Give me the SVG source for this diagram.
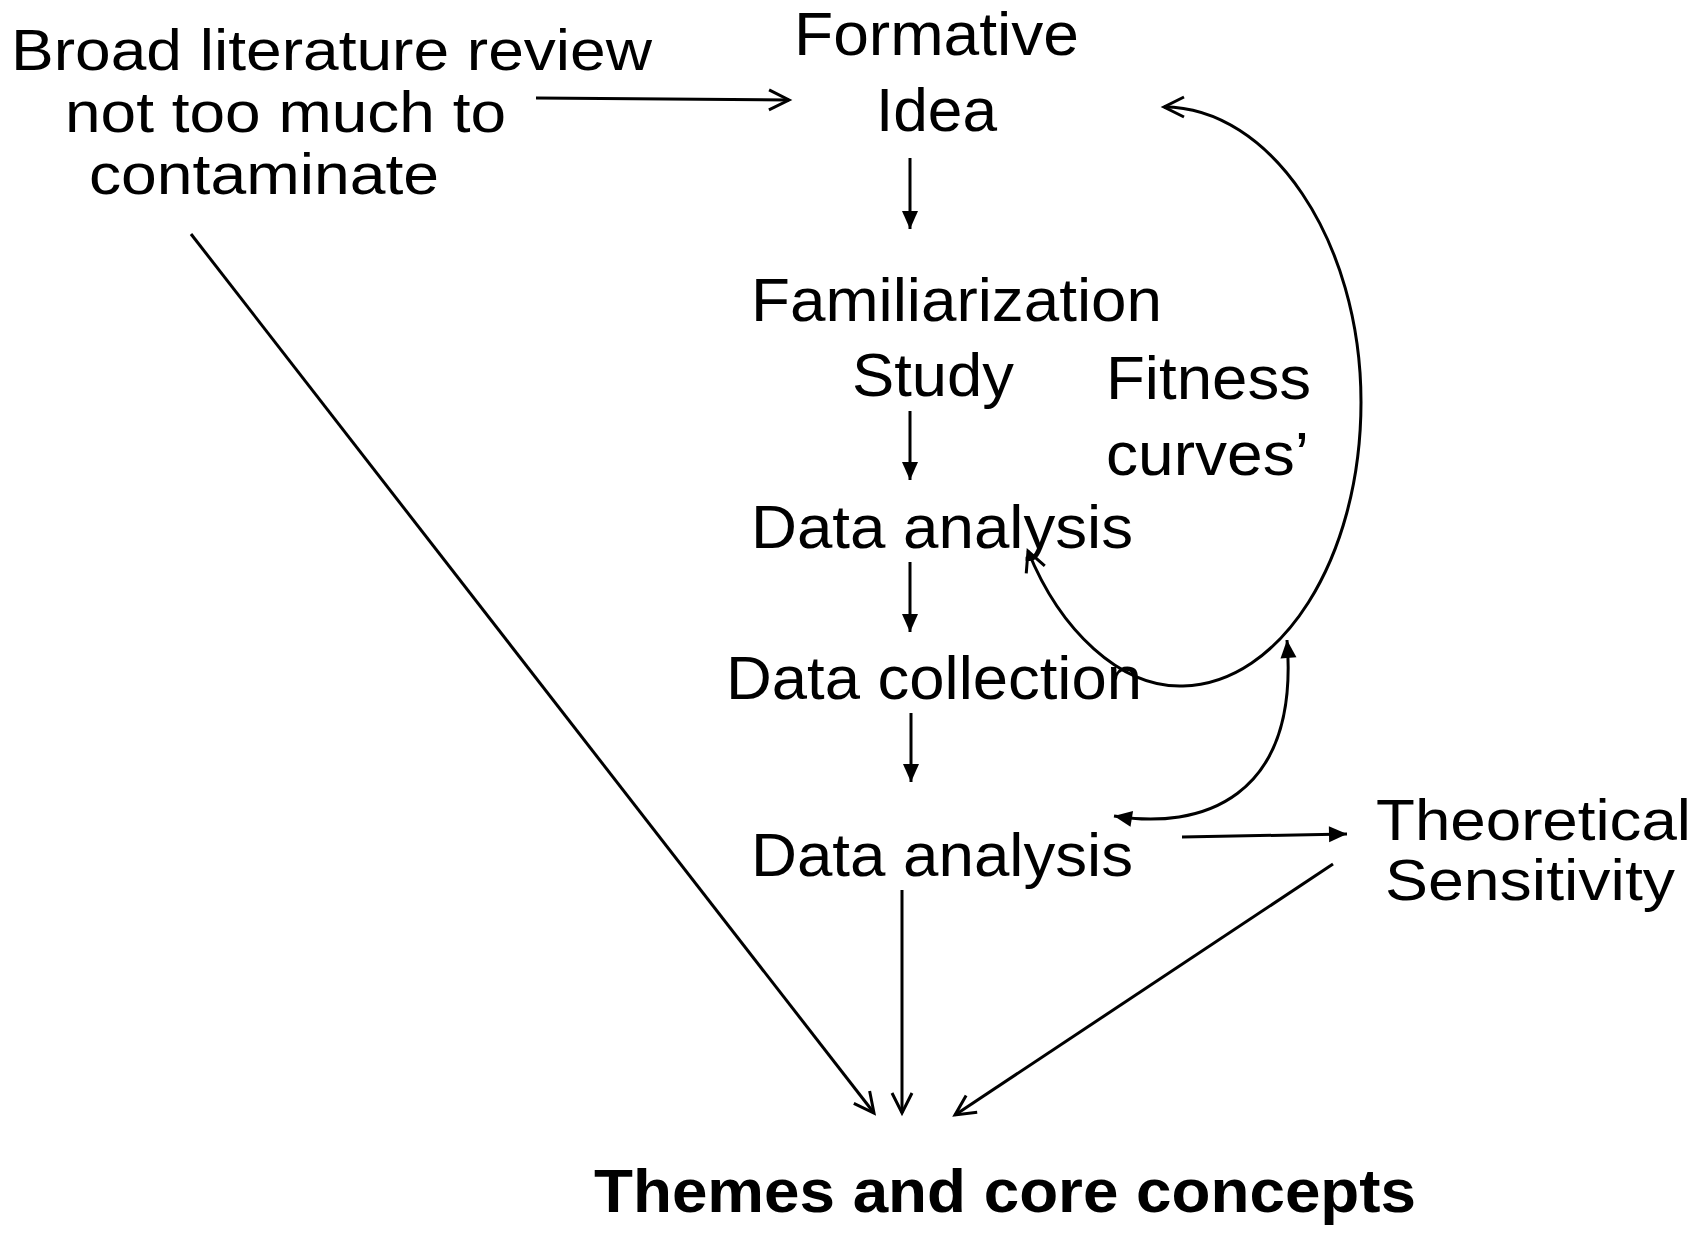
<svg xmlns="http://www.w3.org/2000/svg" width="1700" height="1233" viewBox="0 0 1700 1233">
<style>
  .t { font-family: "Liberation Sans", Arial, sans-serif; font-size: 62px; fill: #000; }
  .s { font-size: 58px; }
  .b { font-family: "Liberation Sans", Arial, sans-serif; font-size: 62px; font-weight: bold; fill: #000; }
  .c { fill: none; stroke: #000; stroke-width: 3; }
  .o { marker-end: url(#open); }
  .f { marker-end: url(#fill); }
</style>
<defs>
  <marker id="open" markerUnits="userSpaceOnUse" markerWidth="30" markerHeight="30" refX="0" refY="0" orient="auto-start-reverse" style="overflow:visible">
    <path d="M-20,-10 L0,0 L-20,10" fill="none" stroke="#000" stroke-width="3"/>
  </marker>
  <marker id="fill" markerUnits="userSpaceOnUse" markerWidth="30" markerHeight="30" refX="0" refY="0" orient="auto-start-reverse" style="overflow:visible">
    <path d="M-18,-8 L0,0 L-18,8 Z" fill="#000"/>
  </marker>
</defs>
<rect width="1700" height="1233" fill="#fff"/>

<g id="connectors">
  <line class="c o" x1="536" y1="98" x2="789" y2="100"/>
  <line class="c f" x1="910" y1="158" x2="910" y2="229"/>
  <line class="c f" x1="910" y1="411" x2="910" y2="480"/>
  <line class="c f" x1="910" y1="562" x2="910" y2="632"/>
  <line class="c f" x1="911" y1="713" x2="911" y2="782"/>
  <line class="c o" x1="902" y1="890" x2="902" y2="1113"/>
  <line class="c o" x1="191" y1="234" x2="874" y2="1113"/>
  <line class="c o" x1="1333" y1="864" x2="955" y2="1115"/>
  <line class="c f" x1="1182" y1="837" x2="1347" y2="834"/>
  <path class="c" marker-start="url(#open)" marker-end="url(#open)" d="M1028,551 C1060,630 1120,688 1183,686 C1280,684 1361,560 1361,402 C1361,240 1270,107 1164,107"/>
  <path class="c" marker-start="url(#fill)" marker-end="url(#fill)" d="M1114,816 C1200,830 1300,800 1287,640"/>
</g>

<g id="node-literature">
  <text class="t s" x="11" y="70" textLength="641" lengthAdjust="spacingAndGlyphs">Broad literature review</text>
  <text class="t s" x="65" y="132" textLength="441" lengthAdjust="spacingAndGlyphs">not too much to</text>
  <text class="t s" x="89" y="194" textLength="350" lengthAdjust="spacingAndGlyphs">contaminate</text>
</g>
<g id="node-formative">
  <text class="t" x="794" y="55" textLength="285" lengthAdjust="spacingAndGlyphs">Formative</text>
  <text class="t" x="876" y="131" textLength="121" lengthAdjust="spacingAndGlyphs">Idea</text>
</g>
<g id="node-familiarization">
  <text class="t" x="751" y="321" textLength="411" lengthAdjust="spacingAndGlyphs">Familiarization</text>
  <text class="t" x="852" y="396" textLength="162" lengthAdjust="spacingAndGlyphs">Study</text>
</g>
<g id="node-fitness">
  <text class="t" x="1106" y="399" textLength="205" lengthAdjust="spacingAndGlyphs">Fitness</text>
  <text class="t" x="1106" y="475" textLength="203" lengthAdjust="spacingAndGlyphs">curves’</text>
</g>
<g id="node-analysis1">
  <text class="t" x="751" y="548" textLength="382" lengthAdjust="spacingAndGlyphs">Data analysis</text>
</g>
<g id="node-collection">
  <text class="t" x="726" y="699" textLength="416" lengthAdjust="spacingAndGlyphs">Data collection</text>
</g>
<g id="node-analysis2">
  <text class="t" x="751" y="876" textLength="382" lengthAdjust="spacingAndGlyphs">Data analysis</text>
</g>
<g id="node-theoretical">
  <text class="t s" x="1376" y="840" textLength="315" lengthAdjust="spacingAndGlyphs">Theoretical</text>
  <text class="t s" x="1385" y="900" textLength="290" lengthAdjust="spacingAndGlyphs">Sensitivity</text>
</g>
<g id="node-themes">
  <text class="b" x="594" y="1212" textLength="822" lengthAdjust="spacingAndGlyphs">Themes and core concepts</text>
</g>
</svg>
